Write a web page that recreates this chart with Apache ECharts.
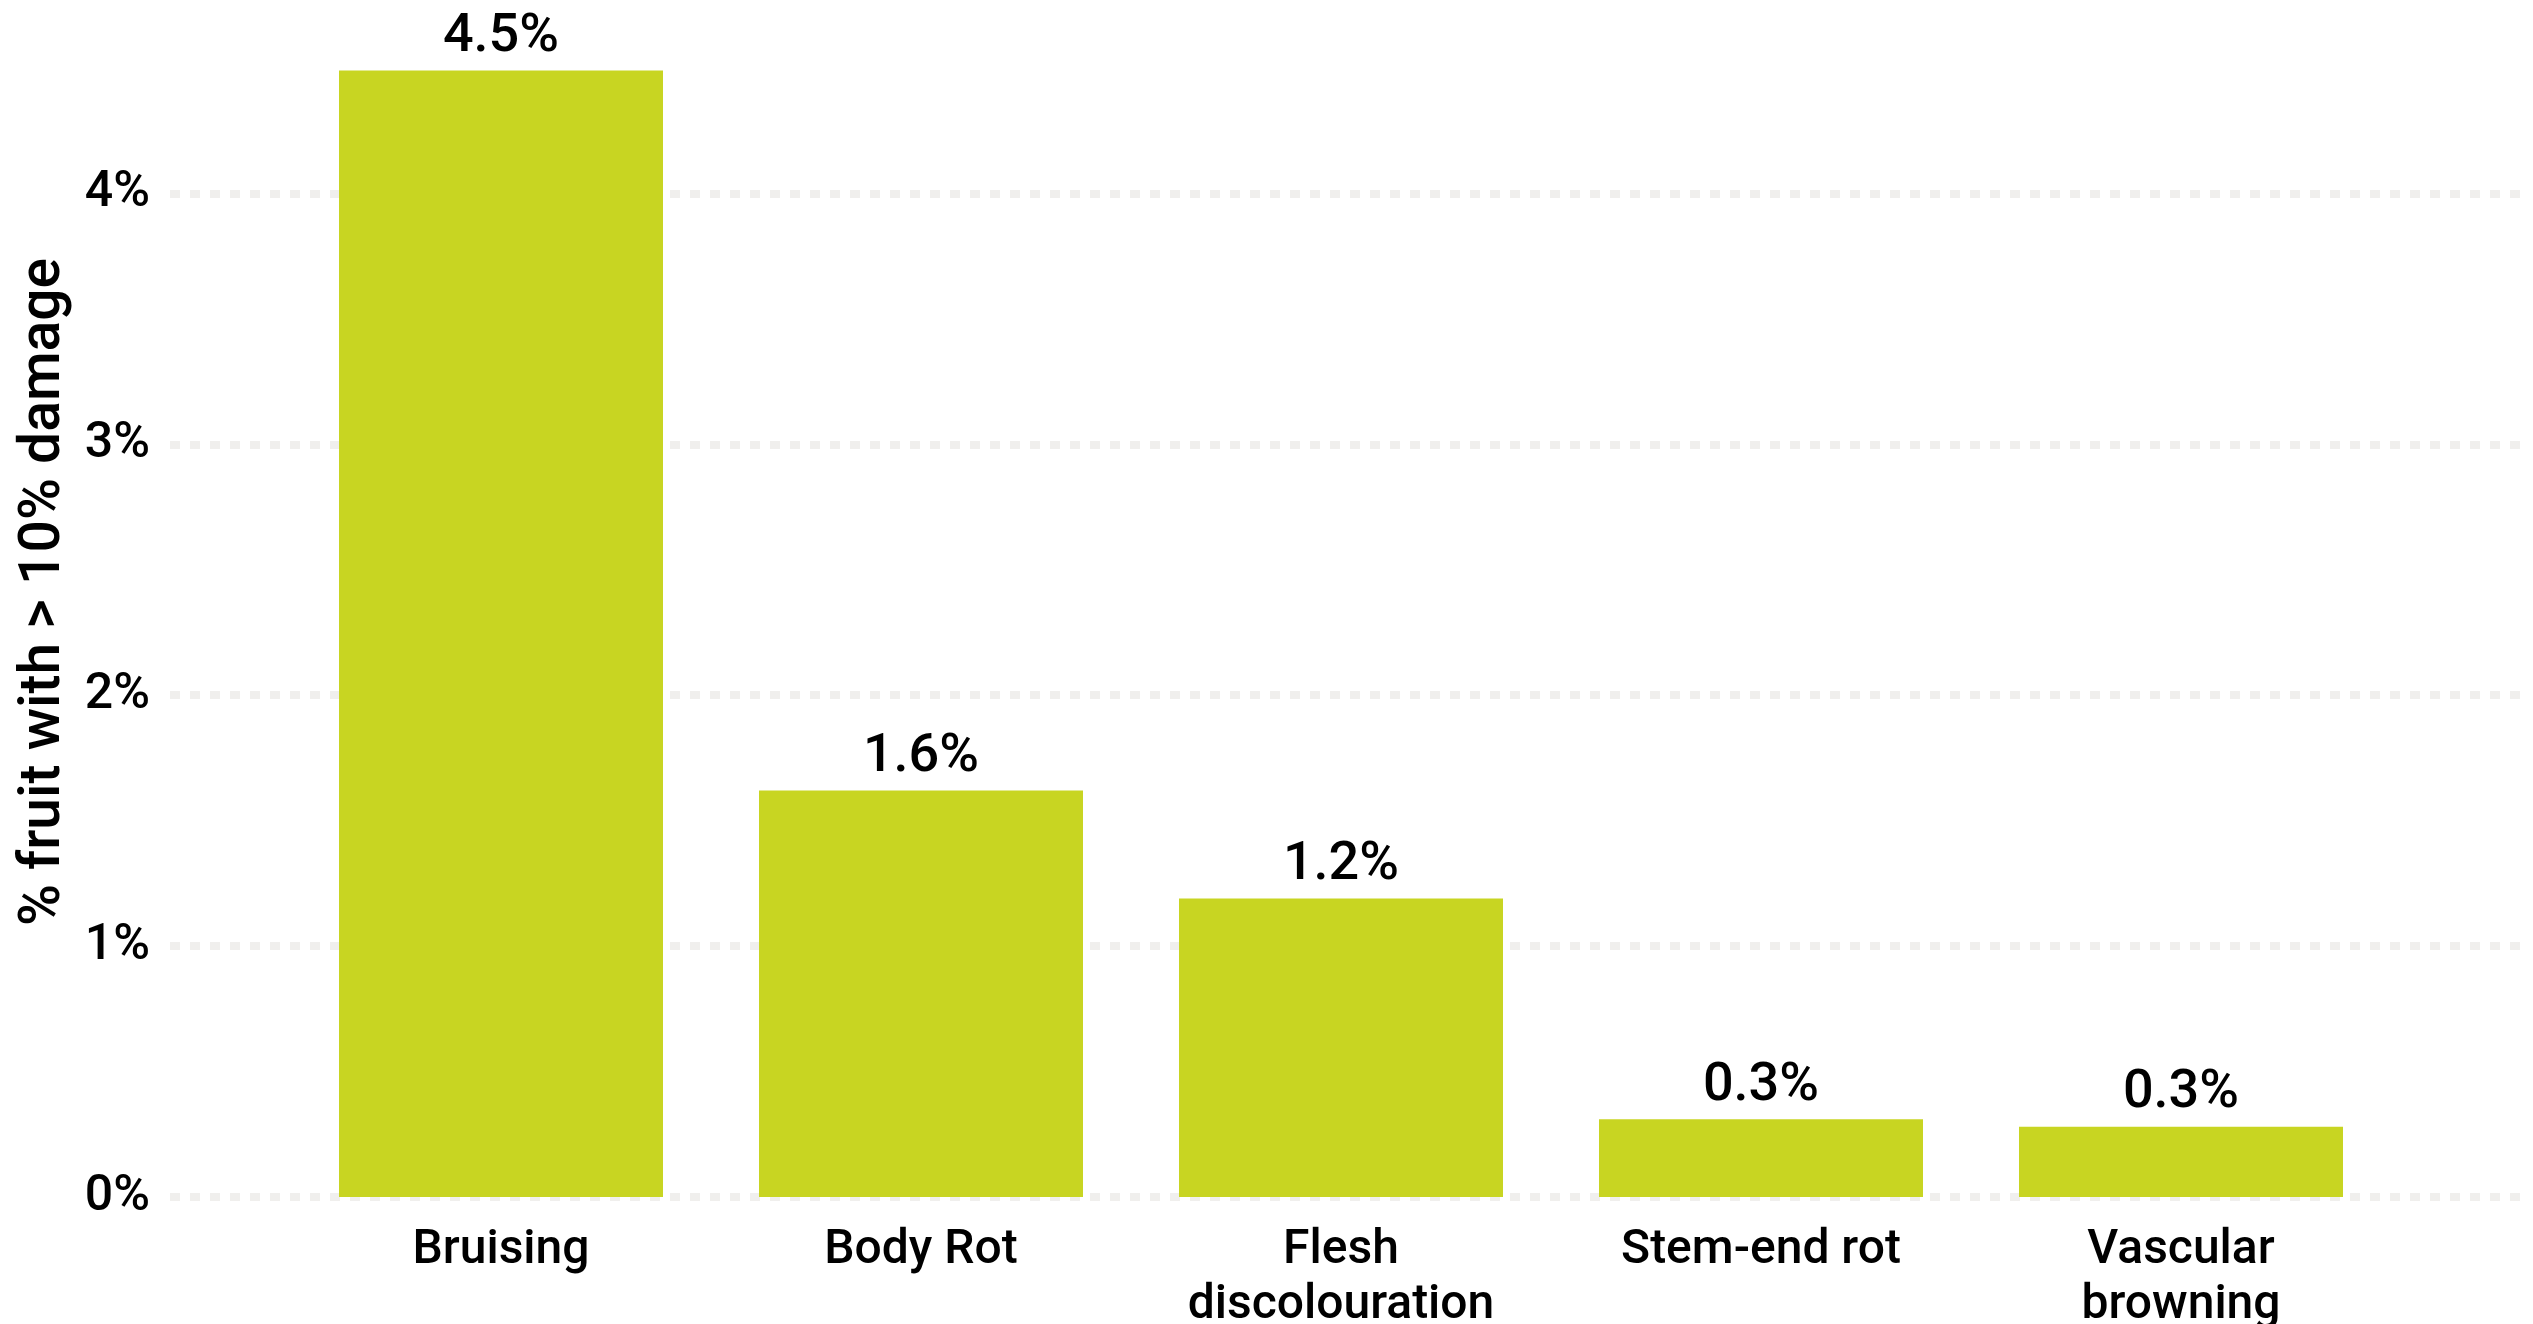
<!DOCTYPE html>
<html>
<head>
<meta charset="utf-8">
<script src="https://cdn.jsdelivr.net/npm/echarts@6/dist/echarts.min.js"></script>
<style>
html,body{margin:0;padding:0;background:#fff;}
#chart{width:2533px;height:1324px;}
</style>
</head>
<body>
<div id="chart"></div>
<script>
const categories = ["Bruising", "Body Rot", "Flesh\ndiscolouration", "Stem-end rot", "Vascular\nbrowning"];
const values = [4.49, 1.62, 1.19, 0.31, 0.28];
const yTicks = [0, 1, 2, 3, 4];
const yTitle = "% fruit with > 10% damage";

const FONT = "Roboto";
const chart = echarts.init(document.getElementById('chart'), null, {renderer: 'canvas'});
const TOP = 68, BOTTOM = 127, YMAX = 4.5;

chart.setOption({
  backgroundColor: '#ffffff',
  animation: false,
  textStyle: {fontFamily: FONT, color: '#000'},
  grid: [
    {left: 170, right: 10, top: TOP, bottom: BOTTOM, containLabel: false, outerBoundsMode: 'none'},
    {left: 291, width: 2100, top: TOP, bottom: BOTTOM, containLabel: false, outerBoundsMode: 'none'}
  ],
  xAxis: [
    {gridIndex: 0, type: 'category', data: [''], show: false},
    {
      gridIndex: 1, type: 'category', data: categories,
      axisLine: {show: false}, axisTick: {show: false},
      axisLabel: {fontFamily: FONT, fontWeight: 500, fontSize: 48, lineHeight: 55, color: '#000', margin: 26, interval: 0}
    }
  ],
  yAxis: [
    {
      gridIndex: 0, type: 'value', min: yTicks[0], max: YMAX, interval: 1,
      axisLine: {show: false}, axisTick: {show: false},
      axisLabel: {
        fontFamily: FONT, fontWeight: 500, fontSize: 50, color: '#000', margin: 20,
        showMaxLabel: false,
        formatter: v => (yTicks.indexOf(v) >= 0 ? v + '%' : '')
      },
      splitLine: {show: true, showMaxLine: false, lineStyle: {color: '#f0efed', width: 8, type: [10, 10]}}
    },
    {gridIndex: 1, type: 'value', min: 0, max: YMAX, show: false, splitLine: {show: false}}
  ],
  series: [{
    type: 'bar',
    xAxisIndex: 1, yAxisIndex: 1,
    data: values,
    barWidth: 324,
    itemStyle: {color: '#c8d522'},
    label: {
      show: true, position: 'top', distance: 6,
      fontFamily: FONT, fontWeight: 500, fontSize: 54, color: '#000',
      formatter: p => p.value.toFixed(1) + '%'
    }
  }],
  graphic: [{
    type: 'text',
    x: 45, y: 592,
    rotation: Math.PI / 2,
    style: {
      text: yTitle, fontFamily: FONT, fontWeight: 500, fontSize: 57, fill: '#000',
      align: 'center', verticalAlign: 'middle'
    }
  }]
});
</script>
</body>
</html>
